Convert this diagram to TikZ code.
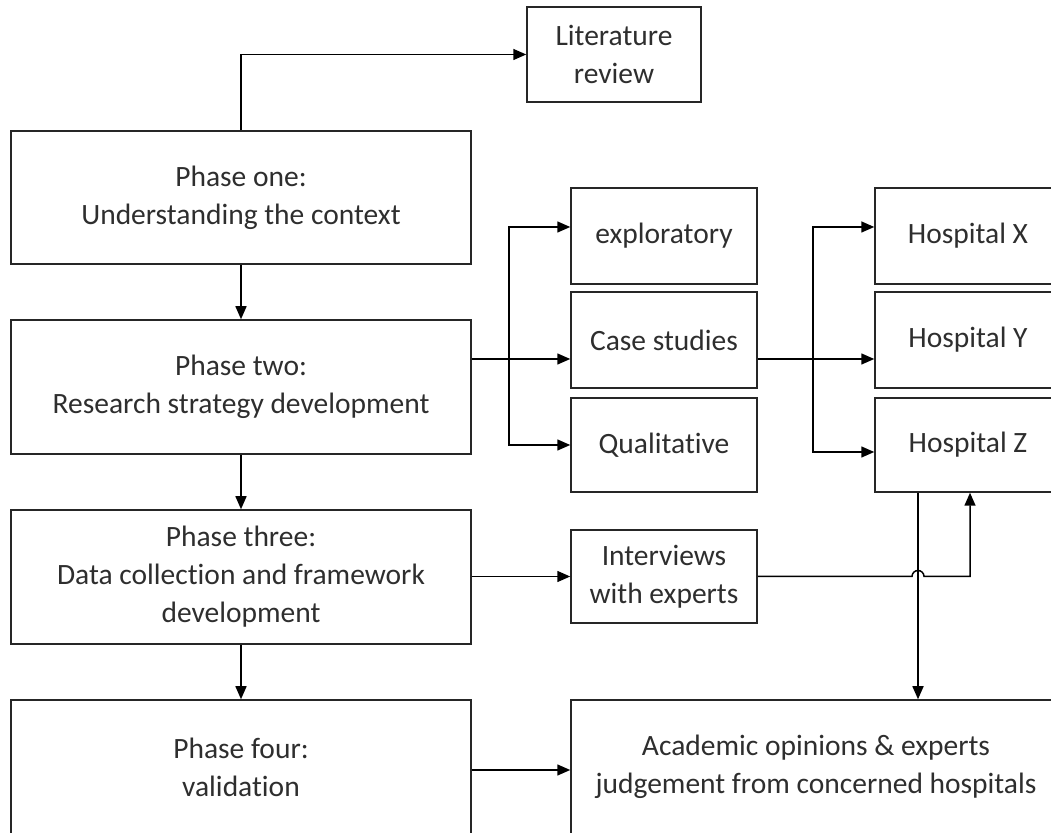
\documentclass[tikz,border=0pt]{standalone}
\usepackage{fontspec}
\setmainfont{Carlito}[Ligatures={NoCommon}]
\usetikzlibrary{arrows.meta,calc}
\begin{document}
\begin{tikzpicture}[x=1pt,y=1pt,
  box/.style={draw=black!85, line width=1.5pt, align=center, inner sep=0pt,
    font=\fontsize{29.5}{38}\selectfont, text=black!82},
  tip/.tip={Triangle[length=13pt,width=11pt]},
  arr/.style={-tip, line width=1.5pt, line join=miter},
  dbl/.style={tip-tip, line width=1.5pt, line join=miter}]
\useasboundingbox (0,0) rectangle (1051,832);
\clip (0,0) rectangle (1051,832);

% phases (left column)
\node[box, minimum width=460, minimum height=133] (p1) at (241,634.5) {Phase one:\\Understanding the context};
\node[box, minimum width=460, minimum height=134] (p2) at (241,445) {Phase two:\\Research strategy development};
\node[box, minimum width=460, minimum height=134] (p3) at (241,255) {Phase three:\\Data collection and framework\\development};
\node[box, minimum width=460, minimum height=134] (p4) at (241,65) {Phase four:\\validation};

% middle column
\node[box, minimum width=174, minimum height=95] (lit) at (614,777.5) {Literature\\review};
\node[box, minimum width=186, minimum height=96] (expl) at (664,596) {exploratory};
\node[box, minimum width=186, minimum height=96] (cs) at (664,492) {Case studies};
\node[box, minimum width=186, minimum height=94] (qual) at (664,387) {Qualitative};
\node[box, minimum width=186, minimum height=93] (int) at (664,255.5) {Interviews\\with experts};
\node[box, minimum width=490, minimum height=134] (acad) at (816,65) {Academic opinions \& experts\\judgement from concerned hospitals};

% hospitals
\node[box, minimum width=186, minimum height=96] (hx) at (968,596) {Hospital X};
\node[box, minimum width=186, minimum height=96] (hy) at (968,492) {Hospital Y};
\node[box, minimum width=186, minimum height=94] (hz) at (968,387) {Hospital Z};

% routing points
\coordinate (row) at (0,473);
\coordinate (s1top) at (509,605);
\coordinate (s1bot) at (509,387);
\coordinate (s2top) at (813,605);
\coordinate (s2bot) at (813,380);
\coordinate (zout) at ([xshift=-50]hz.south);
\coordinate (zin) at ([xshift=2]hz.south);

% connectors
\draw[arr] (p1.north) |- (lit.west);
\draw[arr] (p1.south) -- (p2.north);
\draw[arr] (p2.south) -- (p3.north);
\draw[arr] (p3.south) -- (p4.north);

\draw[arr] (p2.east |- row) -- (cs.west |- row);
\draw[dbl] (expl.west |- s1top) -- (s1top) -- (s1bot) -- (qual.west |- s1bot);

\draw[arr] (cs.east |- row) -- (hy.west |- row);
\draw[dbl] (hx.west |- s2top) -- (s2top) -- (s2bot) -- (hz.west |- s2bot);

\draw[arr] (p3.east |- int.west) -- (int.west);
\draw[arr] (int.east) -- ($(int.east -| zout)+(-6,0)$)
  arc[start angle=180, end angle=0, radius=6] -- (int.east -| zin) -- (zin);
\draw[arr] (zout) -- (zout |- acad.north);

\draw[arr] ([yshift=-3]p4.east) -- ([yshift=-3]acad.west);
\end{tikzpicture}
\end{document}
